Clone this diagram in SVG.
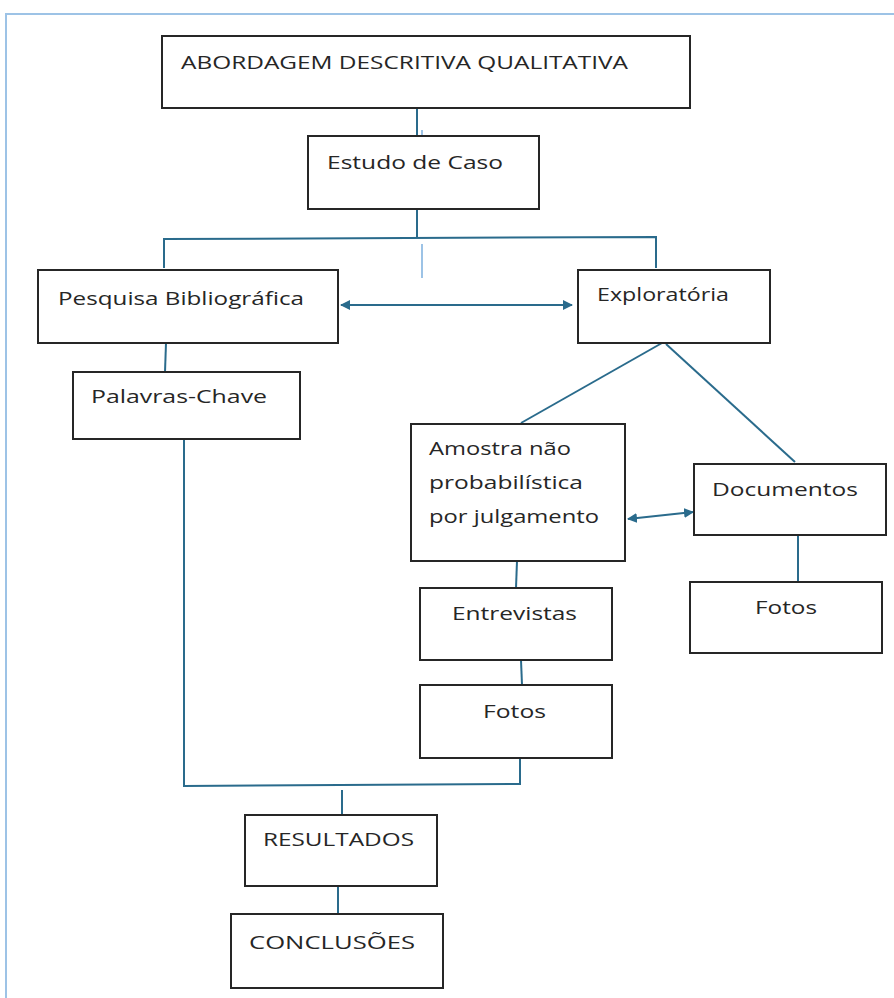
<svg xmlns="http://www.w3.org/2000/svg" width="894" height="998" viewBox="0 0 894 998">
<defs>
<style>
.box{fill:#fff;stroke:#262626;stroke-width:2}
.t{font-family:"Open Sans","Liberation Sans",sans-serif;font-size:19px;fill:#262626}
.c{fill:none;stroke:#2a6b8c;stroke-width:2}
.thin{fill:none;stroke:#5b9bd5;stroke-width:1.2}
</style>
<marker id="ah" viewBox="0 0 10 10" refX="9" refY="5" markerWidth="5" markerHeight="5" orient="auto-start-reverse" markerUnits="strokeWidth">
<path d="M0,0 L10,5 L0,10 z" fill="#2a6b8c"/>
</marker>
</defs>
<rect x="0" y="0" width="894" height="998" fill="#fff"/>
<rect x="6" y="14" width="900" height="1000" fill="none" stroke="#9dc3e6" stroke-width="2"/>

<g id="connectors">
<path class="c" d="M417,108 V136"/>
<path class="c" d="M417,209 V237"/>
<path class="c" d="M164,268 V239 L656,237 V268"/>
<path class="c" d="M341,305 H572" marker-start="url(#ah)" marker-end="url(#ah)"/>
<path class="c" d="M166,343 L165,372"/>
<path class="c" d="M662,343 L521,423"/>
<path class="c" d="M666,344 L795,462"/>
<path class="c" d="M628,519 L693,512" marker-start="url(#ah)" marker-end="url(#ah)"/>
<path class="c" d="M798,535 V582"/>
<path class="c" d="M517,561 L516,588"/>
<path class="c" d="M521,660 L522,685"/>
<path class="c" d="M184,439 V786 L520,784 V758"/>
<path class="c" d="M342,790 V815"/>
<path class="c" d="M338,886 V914"/>
<path class="thin" d="M422,130 V168"/>
<path class="thin" d="M422,244 V278"/>
</g>

<g id="n-abordagem">
<rect class="box" x="162" y="36" width="528" height="72"/>
<text class="t" x="181" y="69" textLength="447" lengthAdjust="spacingAndGlyphs">ABORDAGEM DESCRITIVA QUALITATIVA</text>
</g>
<g id="n-estudo">
<rect class="box" x="308" y="136" width="231" height="73"/>
<text class="t" x="327" y="169" textLength="176" lengthAdjust="spacingAndGlyphs">Estudo de Caso</text>
</g>
<g id="n-pesquisa">
<rect class="box" x="38" y="270" width="300" height="73"/>
<text class="t" x="58" y="305" textLength="246" lengthAdjust="spacingAndGlyphs">Pesquisa Bibliográfica</text>
</g>
<g id="n-exploratoria">
<rect class="box" x="578" y="270" width="192" height="73"/>
<text class="t" x="597" y="301" textLength="132" lengthAdjust="spacingAndGlyphs">Exploratória</text>
</g>
<g id="n-palavras">
<rect class="box" x="73" y="372" width="227" height="67"/>
<text class="t" x="91" y="403" textLength="176" lengthAdjust="spacingAndGlyphs">Palavras-Chave</text>
</g>
<g id="n-amostra">
<rect class="box" x="411" y="424" width="214" height="137"/>
<text class="t" x="429" y="455" textLength="142" lengthAdjust="spacingAndGlyphs">Amostra não</text>
<text class="t" x="429" y="489" textLength="154" lengthAdjust="spacingAndGlyphs">probabilística</text>
<text class="t" x="429" y="523" textLength="170" lengthAdjust="spacingAndGlyphs">por julgamento</text>
</g>
<g id="n-documentos">
<rect class="box" x="694" y="464" width="192" height="71"/>
<text class="t" x="712" y="496" textLength="146" lengthAdjust="spacingAndGlyphs">Documentos</text>
</g>
<g id="n-fotos-doc">
<rect class="box" x="690" y="582" width="192" height="71"/>
<text class="t" x="755" y="614" textLength="62" lengthAdjust="spacingAndGlyphs">Fotos</text>
</g>
<g id="n-entrevistas">
<rect class="box" x="420" y="588" width="192" height="72"/>
<text class="t" x="452" y="620" textLength="125" lengthAdjust="spacingAndGlyphs">Entrevistas</text>
</g>
<g id="n-fotos">
<rect class="box" x="420" y="685" width="192" height="73"/>
<text class="t" x="483" y="718" textLength="63" lengthAdjust="spacingAndGlyphs">Fotos</text>
</g>
<g id="n-resultados">
<rect class="box" x="245" y="815" width="192" height="71"/>
<text class="t" x="263" y="846" textLength="151" lengthAdjust="spacingAndGlyphs">RESULTADOS</text>
</g>
<g id="n-conclusoes">
<rect class="box" x="231" y="914" width="212" height="74"/>
<text class="t" x="249" y="949" textLength="166" lengthAdjust="spacingAndGlyphs">CONCLUSÕES</text>
</g>
</svg>
